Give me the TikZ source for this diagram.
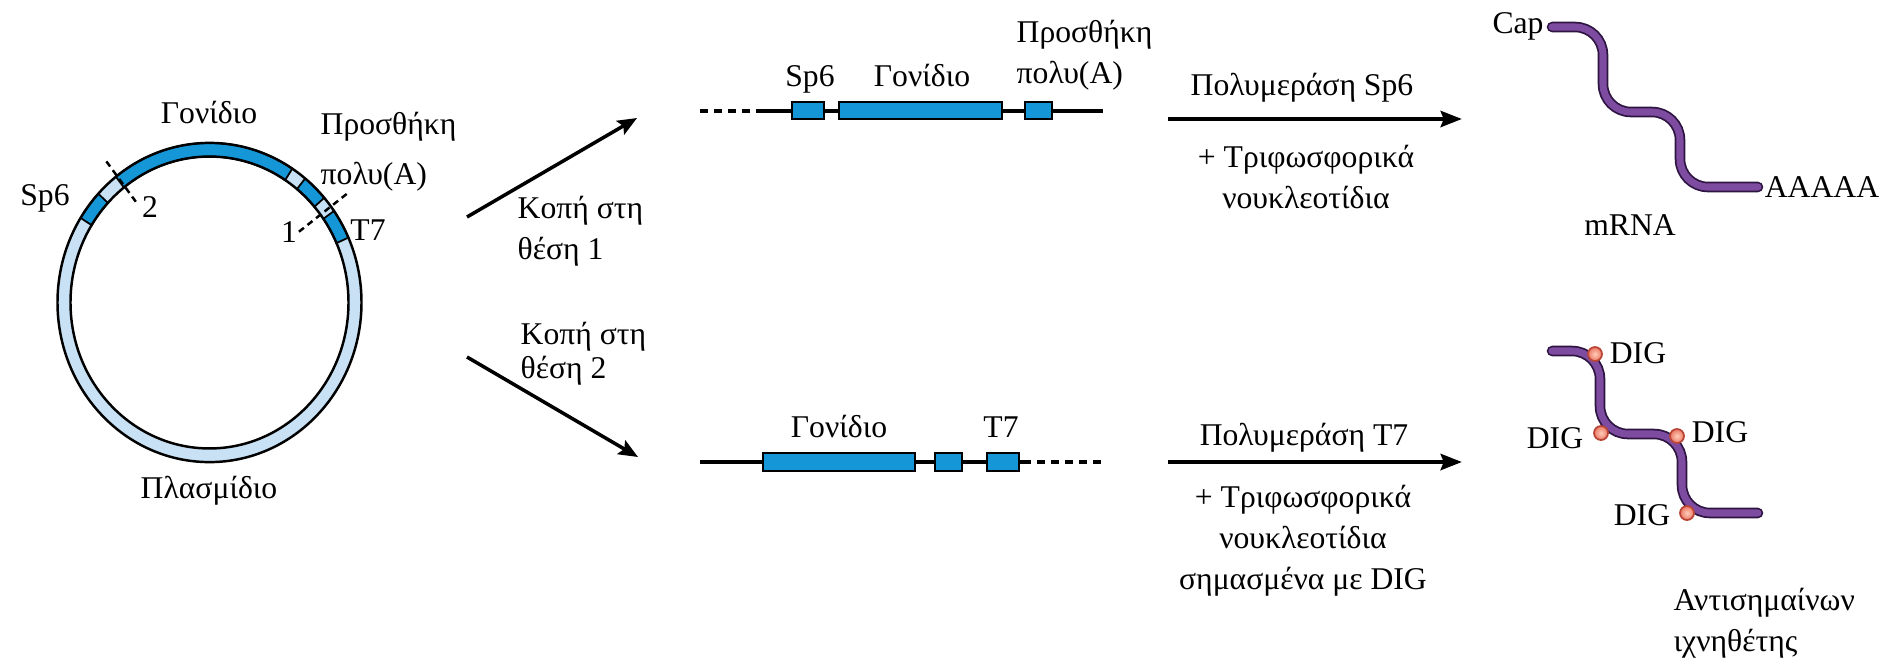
\documentclass[tikz,border=0pt]{standalone}
\usepackage{fontspec}
\setmainfont{Liberation Serif}
\usetikzlibrary{arrows.meta}

\definecolor{genedark}{RGB}{20,150,215}
\definecolor{genelight}{RGB}{200,225,244}
\definecolor{rnapurple}{RGB}{125,75,160}
\definecolor{rnaedge}{RGB}{45,20,65}
\definecolor{digred}{RGB}{236,120,100}
\definecolor{diglight}{RGB}{255,205,185}
\definecolor{digedge}{RGB}{185,70,55}

\tikzset{
  lbl/.style={inner sep=0pt, font=\fontsize{9}{11.6}\selectfont},
  dnaline/.style={line width=1.4pt},
  dnadash/.style={line width=1.4pt, dash pattern=on 2.3pt off 1.7pt},
  genebox/.style={fill=genedark, draw=black, line width=0.6pt},
  cutline/.style={line width=0.7pt, dash pattern=on 1.8pt off 1.3pt},
  cutarrow/.style={line width=1pt, -{Stealth[length=5.5pt,width=4.5pt,inset=1pt]}},
  rxnarrow/.style={line width=1.4pt, -{Stealth[length=6pt,width=4.5pt,inset=0.8pt]}},
  rna/.style={draw=rnaedge, line width=0.5pt, double=rnapurple, double distance=2pt,
              rounded corners=0.28cm, line cap=round},
  dig/.style={circle, draw=digedge, line width=0.5pt, shading=radial,
              inner color=diglight, outer color=digred,
              minimum size=0.14cm, inner sep=0pt},
}

\begin{document}
\begin{tikzpicture}[x=0.01cm,y=-0.01cm]

\useasboundingbox (0,0) rectangle (1890,663);

% plasmid ring
\begin{scope}[shift={(209.5,302.5)}, yscale=-1.05]
  \fill[genelight, even odd rule] (0,0) circle[radius=152] (0,0) circle[radius=139];
  \foreach \a/\b in {148/137, 128/57, 51/41, 35/24}
    \filldraw[fill=genedark, line width=0.5pt]
      (\a:139) arc[start angle=\a, end angle=\b, radius=139]
      -- (\b:152) arc[start angle=\b, end angle=\a, radius=152] -- cycle;
  \draw[line width=0.7pt] (0,0) circle[radius=152] (0,0) circle[radius=139];
  \draw[cutline] (127.5:121) -- (127.5:173);
  \draw[cutline] (37:112) -- (37:172);
\end{scope}

\node[lbl, anchor=base] (pgene) at (209,123) {Γονίδιο};
\node[lbl, anchor=west, align=left] (ppoly) at (320,152) {Προσθήκη\\[2.6pt]πολυ(A)};
\node[lbl, anchor=base] (psp6) at (45,205) {Sp6};
\node[lbl, anchor=base] (pcut2) at (150,217) {2};
\node[lbl, anchor=base] (pcut1) at (289,242) {1};
\node[lbl, anchor=base] (pt7) at (368,240) {T7};
\node[lbl, anchor=base] (plasm) at (209,498) {Πλασμίδιο};

% cutting arrows
\coordinate (cut1s) at (467,217);
\coordinate (cut1e) at (637,118);
\coordinate (cut2s) at (467,357);
\coordinate (cut2e) at (638,457);
\draw[cutarrow] (cut1s) -- (cut1e);
\draw[cutarrow] (cut2s) -- (cut2e);
\node[lbl, anchor=west, align=left] (site1) at (517,231) {Κοπή στη\\θέση 1};
\node[lbl, anchor=west, align=left] (site2) at (520,354) {Κοπή στη\\[-2pt]θέση 2};

% fragment cut at site 1
\draw[dnadash] (700,111) -- (760,111);
\draw[dnaline] (760,111) -- (1103,111);
\draw[genebox] (792,102) rectangle (824,119);
\draw[genebox] (839,102) rectangle (1002,119);
\draw[genebox] (1025,102) rectangle (1052,119);
\node[lbl, anchor=base] (usp6) at (810,86) {Sp6};
\node[lbl, anchor=base] (ugene) at (922,86) {Γονίδιο};
\node[lbl, anchor=west, align=left] (upoly) at (1016,55) {Προσθήκη\\πολυ(A)};

% fragment cut at site 2
\draw[dnaline] (700,462) -- (1023,462);
\draw[dnadash] (1023,462) -- (1103,462);
\draw[genebox] (763,453) rectangle (915,471);
\draw[genebox] (935,453) rectangle (962,471);
\draw[genebox] (987,453) rectangle (1019,471);
\node[lbl, anchor=base] (lgene) at (839,437) {Γονίδιο};
\node[lbl, anchor=base] (lt7) at (1001,437) {T7};

% transcription arrows
\coordinate (rxn1s) at (1168,119);
\coordinate (rxn1e) at (1462,119);
\coordinate (rxn2s) at (1168,462);
\coordinate (rxn2e) at (1462,462);
\draw[rxnarrow] (rxn1s) -- (rxn1e);
\draw[rxnarrow] (rxn2s) -- (rxn2e);
\node[lbl, anchor=base] (pol1) at (1302,95) {Πολυμεράση Sp6};
\node[lbl, align=center] (ntp1) at (1306,177) {+ Τριφωσφορικά\\νουκλεοτίδια};
\node[lbl, anchor=base] (pol2) at (1304,445) {Πολυμεράση T7};
\node[lbl, align=center] (ntp2) at (1303,541) {+ Τριφωσφορικά\\νουκλεοτίδια\\σημασμένα με DIG};

% mRNA
\draw[rna] (1552,27) -- (1603,27) -- (1603,112) -- (1680,112) -- (1680,187) -- (1758,187);
\node[lbl, anchor=base] (cap) at (1518,33) {Cap};
\node[lbl, anchor=base] (polya) at (1822,197) {AAAAA};
\node[lbl, anchor=base] (mrna) at (1630,235) {mRNA};

% DIG labelled probe
\draw[rna] (1552,351) -- (1600,351) -- (1600,434) -- (1682,434) -- (1682,513) -- (1758,513);
\node[dig] (dig1) at (1595,354) {};
\node[dig] (dig2) at (1601,433) {};
\node[dig] (dig3) at (1677,436) {};
\node[dig] (dig4) at (1687,513) {};
\node[lbl, anchor=base] (dlab1) at (1638,363) {DIG};
\node[lbl, anchor=base] (dlab2) at (1555,448) {DIG};
\node[lbl, anchor=base] (dlab3) at (1720,442) {DIG};
\node[lbl, anchor=base] (dlab4) at (1642,525) {DIG};
\node[lbl, anchor=west, align=left] (probe) at (1673,623) {Αντισημαίνων\\ιχνηθέτης};

\end{tikzpicture}
\end{document}
